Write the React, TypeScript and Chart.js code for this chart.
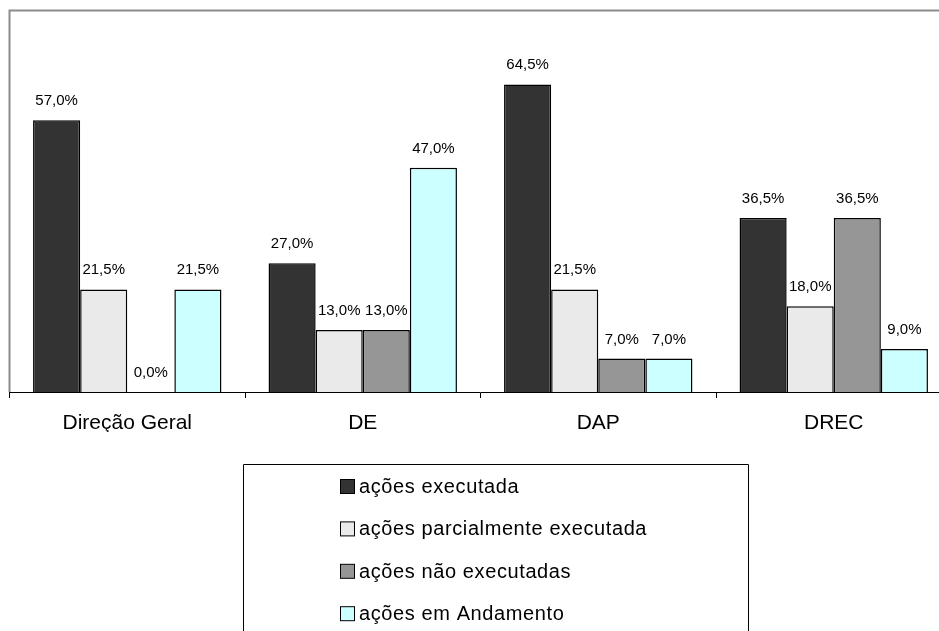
import React, { useEffect, useRef } from "react";
import { Chart, registerables } from "chart.js";

Chart.register(...registerables);

const categories = ["Direção Geral", "DE", "DAP", "DREC"];
const seriesNames = [
  "ações executada",
  "ações parcialmente executada",
  "ações não executadas",
  "ações em Andamento",
];
const executada = [57.0, 27.0, 64.5, 36.5];
const parcialmente = [21.5, 13.0, 21.5, 18.0];
const naoExecutadas = [0.0, 13.0, 7.0, 36.5];
const emAndamento = [21.5, 47.0, 7.0, 9.0];
const seriesColors = ["#333333", "#EAEAEA", "#969696", "#CCFFFF"];
const yMax = 80;

const FONT = "'Liberation Sans', Arial, sans-serif";

const fmt = (v: number) => v.toFixed(1).replace(".", ",") + "%";

const framePlugin = {
  id: "frame",
  beforeDraw(chart: any) {
    const { ctx, chartArea } = chart;
    ctx.save();
    ctx.strokeStyle = "#8c8c8c";
    ctx.lineWidth = 2;
    ctx.beginPath();
    ctx.moveTo(chartArea.left, chartArea.bottom);
    ctx.lineTo(chartArea.left, chartArea.top);
    ctx.lineTo(chart.width, chartArea.top);
    ctx.stroke();
    ctx.restore();
  },
};

const valueLabelPlugin = {
  id: "valueLabels",
  afterDatasetsDraw(chart: any) {
    const { ctx } = chart;
    ctx.save();
    ctx.font = `15px ${FONT}`;
    ctx.fillStyle = "#000";
    ctx.textAlign = "center";
    ctx.textBaseline = "alphabetic";
    chart.data.datasets.forEach((ds: any, i: number) => {
      const meta = chart.getDatasetMeta(i);
      meta.data.forEach((bar: any, j: number) => {
        ctx.fillText(fmt(ds.data[j]), bar.x, bar.y - 15);
      });
    });
    ctx.restore();
  },
};

const boxLegendPlugin = {
  id: "boxLegend",
  afterDraw(chart: any) {
    const { ctx } = chart;
    const left = 243.5;
    const top = 464.5;
    const right = 748.5;
    const bottom = chart.height + 5;
    ctx.save();
    ctx.lineWidth = 1;
    ctx.strokeStyle = "#000";
    ctx.beginPath();
    ctx.moveTo(left, bottom);
    ctx.lineTo(left, top);
    ctx.lineTo(right, top);
    ctx.lineTo(right, bottom);
    ctx.stroke();
    ctx.font = `20px ${FONT}`;
    (ctx as any).letterSpacing = "0.6px";
    ctx.textAlign = "left";
    ctx.textBaseline = "middle";
    chart.data.datasets.forEach((ds: any, i: number) => {
      const cy = 486.5 + i * 42.4;
      ctx.fillStyle = ds.backgroundColor;
      ctx.fillRect(340.5, cy - 7, 14, 14);
      ctx.strokeStyle = "#000";
      ctx.lineWidth = 1;
      ctx.strokeRect(340.5, cy - 7, 14, 14);
      ctx.fillStyle = "#000";
      ctx.fillText(ds.label, 359, cy + 1);
    });
    ctx.restore();
  },
};

export default function App() {
  const ref = useRef<HTMLCanvasElement | null>(null);

  useEffect(() => {
    if (!ref.current) return;
    Chart.defaults.font.family = FONT;
    const seriesData = [executada, parcialmente, naoExecutadas, emAndamento];
    const chart = new Chart(ref.current, {
      type: "bar",
      data: {
        labels: categories,
        datasets: seriesData.map((d, i) => ({
          label: seriesNames[i],
          data: d,
          backgroundColor: seriesColors[i],
          borderColor: "#000",
          borderWidth: 1.5,
          categoryPercentage: 0.8,
          barPercentage: 1.0,
        })),
      },
      options: {
        responsive: false,
        animation: false,
        devicePixelRatio: 1,
        layout: { padding: { left: 9.5, top: 10.5, right: 8.5, bottom: 268 } },
        plugins: {
          legend: { display: false },
          tooltip: { enabled: false },
        },
        scales: {
          x: {
            afterFit: (scale: any) => {
              scale.height = 40;
            },
            grid: {
              offset: true,
              drawOnChartArea: false,
              drawTicks: true,
              tickLength: 6,
              color: "#000",
            },
            border: { display: true, color: "#000", width: 1 },
            ticks: {
              color: "#000",
              font: { size: 21, family: FONT },
              padding: 13,
              maxRotation: 0,
            },
          },
          y: {
            display: false,
            min: 0,
            max: yMax,
          },
        },
      },
      plugins: [framePlugin, valueLabelPlugin, boxLegendPlugin],
    });
    return () => chart.destroy();
  }, []);

  return (
    <div
      style={{
        position: "fixed",
        left: 0,
        top: 0,
        width: 939,
        height: 631,
        overflow: "hidden",
        background: "#fff",
      }}
    >
      <canvas ref={ref} width={960} height={700} style={{ width: 960, height: 700, display: "block" }} />
    </div>
  );
}
